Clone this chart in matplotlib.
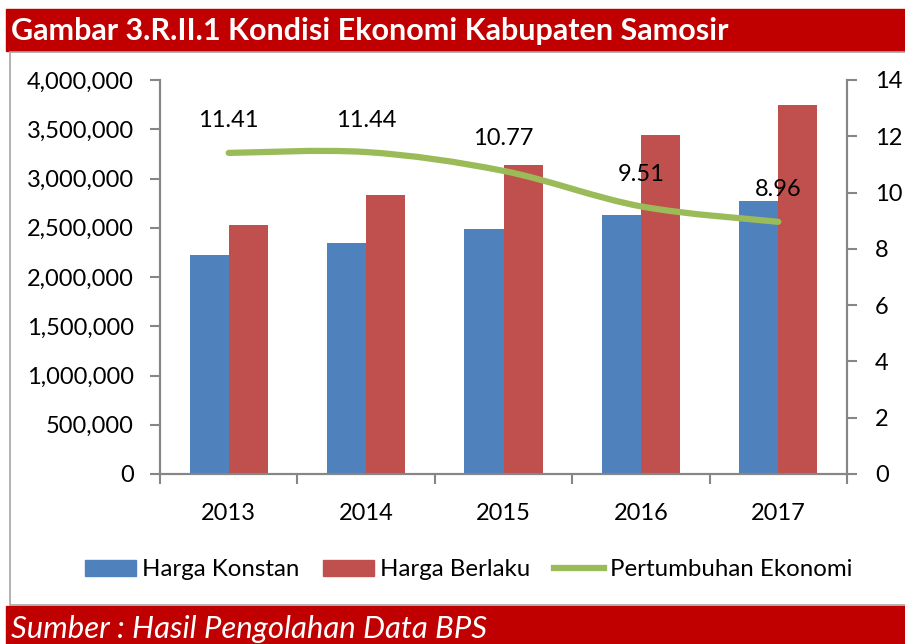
import numpy as np
import matplotlib.pyplot as plt
from matplotlib.path import Path
from matplotlib.patches import PathPatch, Rectangle
from matplotlib.lines import Line2D
from matplotlib.ticker import FuncFormatter

############################### Datos ###############################
tahun          = ['2013', '2014', '2015', '2016', '2017']
harga_konstan  = [2226000, 2348000, 2490000, 2629000, 2772000]
harga_berlaku  = [2528000, 2832000, 3137000, 3442000, 3746000]
pertumbuhan    = [11.41, 11.44, 10.77, 9.51, 8.96]

judul  = 'Gambar 3.R.II.1 Kondisi Ekonomi Kabupaten Samosir'
sumber = 'Sumber : Hasil Pengolahan Data BPS'

AZUL  = '#4F81BD'
ROJO  = '#C0504D'
VERDE = '#9BBB59'
GRIS  = '#868686'
BANDA = '#C00000'

plt.rcParams['font.family'] = ['Lato', 'DejaVu Sans']

fig = plt.figure(figsize=[9.05, 6.44], dpi=100)
W, H = 905., 644.

### Bandas rojas y marco
fig.patches.append(Rectangle((6/W, (H-51)/H), 1, 42/H, transform=fig.transFigure,
                             color=BANDA, zorder=-10))
fig.patches.append(Rectangle((6/W, 0), 1, (H-606)/H, transform=fig.transFigure,
                             color=BANDA, zorder=-10))
fig.patches.append(Rectangle((10/W, (H-605)/H), 1, (605-52)/H, transform=fig.transFigure,
                             facecolor='white', edgecolor='#A6A6A6', linewidth=1.2, zorder=-10))
fig.text(11/W, (H-31)/H, judul, color='white', fontsize=22, fontweight='bold',
         va='center', ha='left')
fig.text(11/W, (H-629)/H, sumber, color='white', fontsize=22.4, style='italic',
         va='center', ha='left')

################################ Gráfica ################################
ax = fig.add_axes([160/W, (H-474)/H, (847-160)/W, (474-80)/H])
ax2 = ax.twinx()

x = np.arange(len(tahun))
ancho = 0.285
ax.bar(x - ancho/2, harga_konstan, ancho, color=AZUL, label='Harga Konstan', zorder=2)
ax.bar(x + ancho/2, harga_berlaku, ancho, color=ROJO, label='Harga Berlaku', zorder=2)

ax.set_xlim(-0.5, len(tahun) - 0.5)
ax.set_ylim(0, 4000000)
ax.set_yticks(np.arange(0, 4000001, 500000))
ax.yaxis.set_major_formatter(FuncFormatter(lambda v, p: '{:,.0f}'.format(v)))
ax.set_xticks(np.arange(-0.5, len(tahun), 1.0))
ax.set_xticklabels([])
ax.set_xticks(x, minor=True)
ax.set_xticklabels(tahun, minor=True)
ax.tick_params(axis='x', which='major', length=7, color=GRIS, width=1.5, direction='out')
ax.tick_params(axis='x', which='minor', length=0, pad=21, labelsize=17)
ax.tick_params(axis='y', length=7, color=GRIS, width=1.5, pad=12, labelsize=17)

### Línea suavizada (Catmull-Rom -> Bezier)
pts = np.column_stack([x, pertumbuhan]).astype(float)
verts = [tuple(pts[0])]
codes = [Path.MOVETO]
for i in range(len(pts) - 1):
    p0 = pts[max(i - 1, 0)]
    p1 = pts[i]
    p2 = pts[i + 1]
    p3 = pts[min(i + 2, len(pts) - 1)]
    c1 = p1 + (p2 - p0) / 6.0
    c2 = p2 - (p3 - p1) / 6.0
    verts += [tuple(c1), tuple(c2), tuple(p2)]
    codes += [Path.CURVE4] * 3
ax2.add_patch(PathPatch(Path(verts, codes), facecolor='none', edgecolor=VERDE,
                        linewidth=4.5, capstyle='round', zorder=3))
for xi, v in zip(x, pertumbuhan):
    ax2.annotate('%.2f' % v, (xi, v), xytext=(0, 23), textcoords='offset points',
                 ha='center', va='center', fontsize=17)

ax2.set_ylim(0, 14)
ax2.set_yticks(np.arange(0, 15, 2))
ax2.tick_params(axis='y', length=7, color=GRIS, width=1.5, pad=13, labelsize=17)

for a in (ax, ax2):
    a.spines['top'].set_visible(False)
    for s in ('left', 'right', 'bottom'):
        a.spines[s].set_color(GRIS)
        a.spines[s].set_linewidth(1.5)

### Leyenda
manijas = [Rectangle((0, 0), 1, 1, color=AZUL), Rectangle((0, 0), 1, 1, color=ROJO),
           Line2D([], [], color=VERDE, linewidth=4.5)]
fig.legend(manijas, ['Harga Konstan', 'Harga Berlaku', 'Pertumbuhan Ekonomi'],
           loc='center', bbox_to_anchor=(469/W, (H-570)/H), ncol=3, frameon=False,
           fontsize=17.3, handlelength=2.1, handleheight=0.6, handletextpad=0.25,
           columnspacing=1.0)

plt.savefig('out.png', dpi=100)
